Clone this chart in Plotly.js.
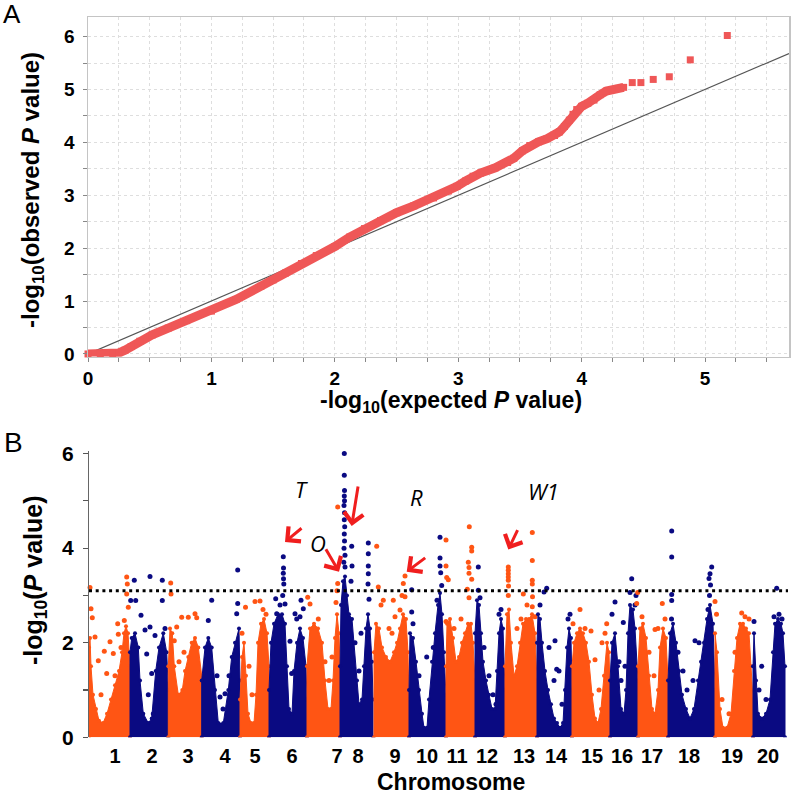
<!DOCTYPE html>
<html>
<head>
<meta charset="utf-8">
<script src="https://cdn.plot.ly/plotly-3.0.1.min.js"></script>
<style>html,body{margin:0;padding:0;background:#fff;}#chart{width:794px;height:796px;}</style>
</head>
<body>
<div id="chart"></div>
<script>
// ---------------- Panel A: QQ plot ----------------
const qqExpected = [0, 0.1, 0.2, 0.25, 0.3, 0.35, 0.42, 0.52, 0.65, 0.8, 1.0, 1.2, 1.4, 1.5, 1.6, 1.73, 1.85, 2.0, 2.12, 2.24, 2.37, 2.5, 2.64, 2.8, 2.92, 2.99, 3.06, 3.12, 3.18, 3.3, 3.4, 3.45, 3.52, 3.58, 3.65, 3.72, 3.78, 3.82, 3.86, 3.9, 3.93, 3.96, 4.0, 4.05, 4.1, 4.15, 4.2, 4.25, 4.3, 4.34, 4.41, 4.48, 4.58, 4.71, 4.88, 5.18];
const qqObserved = [0, 0, 0.01, 0.02, 0.07, 0.14, 0.24, 0.36, 0.49, 0.63, 0.81, 1.03, 1.28, 1.40, 1.53, 1.71, 1.86, 2.03, 2.21, 2.37, 2.52, 2.67, 2.80, 2.95, 3.08, 3.17, 3.27, 3.36, 3.42, 3.52, 3.62, 3.70, 3.84, 3.94, 4.01, 4.07, 4.13, 4.20, 4.30, 4.42, 4.53, 4.62, 4.68, 4.74, 4.80, 4.90, 4.97, 5.00, 5.02, 5.04, 5.13, 5.13, 5.19, 5.24, 5.56, 6.02];
const qqDenseCount = 50; // points forming the continuous band
const qqDiag = [0, 5.68];
const qqXTicks = [0, 1, 2, 3, 4, 5];
const qqYTicks = [0, 1, 2, 3, 4, 5, 6];

// ---------------- Panel B: Manhattan plot ----------------
const chrNames = ['1','2','3','4','5','6','7','8','9','10','11','12','13','14','15','16','17','18','19','20'];
const chrTickPos = [26, 63, 99, 136, 166, 203, 248, 269, 306, 338, 368, 398, 435, 467, 503, 533, 563, 600, 643, 679];
const threshold = 3.1;
const genomeEnd = 699;

// dense SNP cloud outline per chromosome (position, -log10 P)
const coreX = [
  [0, 1, 2, 4, 7, 10, 14, 18, 22, 26, 30, 33, 35, 37, 39, 41],
  [41, 42.7, 46, 49.3, 51, 54.3, 59.3, 62.7, 66.7, 70, 74.3, 77.7, 79.3],
  [79.3, 81, 83.3, 85.3, 89.3, 93.3, 96, 99.3, 102.7, 106, 109.3, 112.7],
  [112.7, 116, 119.3, 122.7, 126, 129.3, 134.3, 139.3, 142.7, 146, 150, 151],
  [151, 153, 155, 157, 159, 162, 165, 167, 169, 172, 175, 178, 180],
  [180, 182, 185, 189, 193, 196, 198, 200, 203, 205, 208, 211, 214, 217, 218],
  [218, 221, 225, 229, 233, 236, 239, 242, 244, 246, 248, 250, 251],
  [251, 252, 254, 256, 258, 260, 263, 265, 268, 270, 273, 275, 277, 279, 281, 283, 284],
  [285, 287, 290, 293, 297, 301, 305, 308, 311, 314, 317, 319, 320],
  [320, 321, 324, 327, 330, 333, 335, 338, 340, 343, 346, 349, 351, 353, 355, 357],
  [357, 358, 361, 364, 367, 370, 373, 376, 379, 382, 384, 386],
  [386, 388, 390, 392, 394, 397, 400, 403, 406, 408, 410, 412, 414, 416],
  [416, 418, 420, 422, 425, 428, 431, 434, 437, 440, 443, 446, 448],
  [448, 449, 451, 453, 456, 459, 462, 465, 468, 471, 474, 476, 478, 480, 482, 483],
  [483, 485, 488, 491, 494, 497, 500, 503, 506, 509, 512, 515, 518, 520, 521],
  [521, 523, 526, 529, 532, 535, 537, 539, 541, 544, 546, 549],
  [549, 551, 554, 557, 560, 563, 566, 569, 571, 574, 577, 579],
  [579, 581, 584, 587, 590, 593, 597, 601, 605, 609, 612, 615, 618, 621, 624, 626],
  [626, 628, 631, 634, 638, 642, 645, 648, 651, 654, 657, 660, 662, 664],
  [664, 665, 667, 669, 673, 677, 681, 684, 686, 689, 692, 694, 696]
];
const coreY = [
  [1.9, 2.1, 1.5, 0.9, 0.6, 0.35, 0.3, 0.5, 0.8, 1.1, 1.4, 1.8, 2.2, 2.35, 2.2, 1.5],
  [1.8, 2.1, 2.2, 1.9, 1.2, 0.5, 0.3, 0.4, 1.4, 1.9, 2.2, 1.8, 1.0],
  [1.5, 2.3, 2.2, 1.5, 0.9, 1.0, 1.4, 1.7, 2.0, 2.1, 1.9, 1.3],
  [1.2, 1.9, 2.1, 1.9, 1.0, 0.3, 0.3, 1.0, 1.7, 2.0, 2.3, 1.2],
  [0.8, 1.7, 2.0, 1.3, 0.5, 0.3, 0.3, 0.9, 2.0, 2.4, 2.5, 2.2, 1.5],
  [1.0, 2.0, 2.4, 2.6, 2.6, 2.4, 1.5, 0.6, 0.5, 1.4, 2.0, 2.3, 2.1, 1.5, 0.8],
  [1.5, 2.3, 2.4, 2.3, 2.0, 1.2, 0.6, 0.6, 1.2, 2.1, 2.6, 2.2, 1.5],
  [1.5, 2.8, 3.3, 3.4, 3.0, 2.6, 2.5, 2.0, 1.2, 0.7, 0.8, 1.5, 2.3, 2.6, 2.3, 1.6, 0.8],
  [1.8, 2.4, 2.3, 1.9, 1.7, 1.6, 1.8, 2.0, 2.3, 2.6, 2.5, 1.8, 0.8],
  [1.0, 2.2, 2.1, 1.6, 1.0, 0.5, 0.2, 0.2, 0.8, 1.6, 2.2, 2.8, 3.05, 2.6, 1.8, 0.9],
  [1.5, 2.4, 2.5, 2.1, 1.6, 1.7, 2.0, 2.2, 2.4, 2.4, 2.0, 1.2],
  [2.2, 2.9, 2.8, 2.2, 1.6, 1.2, 0.9, 0.6, 0.6, 1.4, 2.2, 2.5, 2.3, 1.0],
  [1.5, 2.6, 2.7, 2.0, 1.3, 1.5, 2.0, 2.4, 2.5, 2.5, 2.6, 2.2, 1.2],
  [2.0, 2.6, 2.5, 2.0, 1.4, 1.0, 0.7, 0.4, 0.3, 0.2, 0.3, 1.0, 1.9, 2.3, 2.1, 1.0],
  [1.5, 2.0, 2.2, 2.3, 2.2, 2.0, 1.6, 0.9, 0.4, 0.3, 0.6, 1.3, 2.0, 1.8, 1.0],
  [1.2, 2.0, 2.2, 1.5, 0.6, 0.5, 1.0, 2.2, 2.8, 2.7, 2.3, 1.2],
  [1.5, 2.3, 2.4, 2.1, 1.3, 0.6, 0.5, 1.0, 1.9, 2.3, 2.1, 1.2],
  [1.2, 2.2, 2.4, 2.0, 1.4, 0.9, 0.6, 0.4, 0.6, 1.2, 1.6, 2.0, 2.5, 2.8, 2.4, 1.0],
  [2.2, 1.8, 0.6, 0.2, 0.2, 0.5, 1.4, 2.1, 2.4, 2.4, 2.3, 2.2, 1.5, 0.8],
  [1.5, 2.2, 1.2, 0.5, 0.4, 0.5, 0.8, 1.8, 2.4, 2.5, 2.4, 2.2, 1.5]
];
// individual SNPs standing out of the cloud
const snpX = [
  [1, 2, 3.3, 6, 9.3, 15.3, 17.7, 21, 24.3, 28.7, 29.3, 35.3, 37.7, 38.3, 37.7, 39.3, 12, 26, 32],
  [41.7, 45.3, 46.7, 52, 56, 57.7, 59.3, 61, 61, 62.7, 64.3, 66, 73.3, 73.3, 76],
  [81.7, 82, 85.3, 87.7, 92.7, 99.3, 106, 107.7, 90, 95],
  [119.3, 122.7, 131, 134, 136, 140, 147.7, 148.7, 148.7, 128],
  [153, 156.5, 160, 163, 166, 171, 174, 177],
  [186.7, 187.7, 194.3, 194.5, 194.3, 194.5, 194.8, 193.7, 196, 201, 202.7, 206, 207.7, 212, 214.3, 211, 191],
  [218.7, 221, 229.3, 236, 240, 243, 248.7, 248.7, 248, 247],
  [255.3, 255.3, 255.5, 255.3, 255.5, 255, 255.5, 255.3, 255.7, 255.3, 255.5, 255, 256, 254.8, 256, 262.7, 263, 262, 279.3, 279.3, 279.3, 279.3, 279, 280, 266, 270, 272],
  [287.7, 289.3, 292, 294.3, 300, 303, 304.3, 306, 311, 313, 314.3, 316, 316],
  [322.7, 322.7, 324, 337.7, 344.3, 351, 351, 351, 351.7, 352.7, 348, 330],
  [357, 357, 357.7, 359.3, 357, 365, 372, 380.3, 382.7, 382.7, 379.3, 380, 380, 382.7, 378.3, 380],
  [389.3, 389.3, 391, 395, 400, 404, 407, 410, 412],
  [419.3, 419.3, 419.3, 419.3, 419.3, 419.5, 419.3, 428, 432, 434.3, 443.3, 443.3, 443.3, 443.3, 443.5, 443.3, 438, 446],
  [451, 455, 457.7, 460, 465, 466, 467.7, 470, 473, 479, 481],
  [484, 491, 496, 502, 506, 510, 513, 516, 517.7],
  [523, 526, 530, 532, 534.3, 536, 541, 542.7, 547, 546],
  [547.7, 548.7, 553, 560, 565, 566, 569, 573.3, 576],
  [582.7, 582.7, 582.7, 582.7, 582.5, 589, 594, 598, 604, 606, 610, 622.7, 621, 620, 621.5, 620.5, 619],
  [626, 627.5, 633, 640, 652.7, 656, 660, 646],
  [665, 670, 672.7, 677, 687.7, 685, 690, 693]
];
const snpY = [
  [3.17, 2.72, 2.53, 2.12, 1.62, 1.82, 1.35, 2.02, 1.77, 2.4, 2.18, 2.47, 3.39, 3.24, 3.03, 2.75, 0.9, 1.3, 1.9],
  [2.89, 3.32, 2.89, 2.58, 2.27, 1.76, 0.9, 3.4, 2.33, 1.35, 0.5, 2.15, 3.32, 2.89, 2.3],
  [3.26, 3.03, 2.04, 2.33, 2.54, 2.54, 2.61, 2.53, 1.6, 1.8],
  [2.47, 2.9, 0.85, 0.6, 0.92, 1.3, 2.61, 2.83, 3.54, 1.3],
  [2.2, 2.75, 1.5, 0.9, 2.87, 2.88, 2.7, 2.6],
  [2.93, 2.61, 3.82, 3.58, 3.47, 3.35, 3.24, 3.0, 2.82, 2.03, 1.35, 2.61, 2.5, 2.9, 2.72, 2.55, 2.8],
  [2.96, 2.82, 2.5, 1.6, 1.2, 1.7, 4.87, 3.25, 3.1, 2.85],
  [6.0, 5.54, 5.22, 5.1, 5.0, 4.9, 4.75, 4.6, 4.45, 4.3, 4.15, 4.0, 3.85, 3.7, 3.6, 4.04, 3.62, 3.3, 4.11, 3.88, 3.62, 3.46, 3.24, 2.92, 2.0, 1.4, 2.2],
  [4.04, 3.18, 2.8, 2.9, 2.3, 2.2, 2.9, 2.55, 2.69, 3.0, 3.25, 3.41, 2.97],
  [3.12, 2.65, 2.4, 1.7, 1.9, 4.23, 3.79, 3.62, 3.48, 3.21, 2.9, 1.3],
  [4.17, 3.62, 3.38, 3.33, 2.45, 2.3, 2.5, 4.45, 4.02, 3.94, 3.7, 3.59, 3.47, 3.34, 3.13, 2.95],
  [3.6, 3.11, 2.95, 1.9, 1.3, 0.9, 0.7, 2.6, 2.7],
  [3.6, 3.53, 3.46, 3.39, 3.32, 3.2, 3.0, 2.3, 2.5, 3.03, 4.33, 3.74, 3.32, 3.24, 2.97, 2.76, 2.8, 2.55],
  [2.8, 3.07, 3.15, 1.9, 1.2, 2.04, 1.44, 1.4, 0.7, 2.5, 2.6],
  [2.4, 2.7, 2.3, 2.25, 1.64, 1.0, 2.0, 2.2, 2.4],
  [2.6, 2.86, 1.6, 1.2, 2.43, 1.5, 3.06, 3.35, 3.0, 2.8],
  [2.83, 3.06, 2.55, 1.8, 1.3, 2.28, 2.3, 2.83, 2.5],
  [4.36, 3.81, 3.02, 2.89, 2.5, 1.8, 1.4, 1.0, 1.2, 2.04, 2.0, 3.6, 3.46, 3.36, 3.22, 3.0, 2.7],
  [2.87, 2.6, 0.8, 0.5, 2.63, 2.55, 2.5, 1.8],
  [2.45, 1.0, 1.5, 0.8, 3.15, 2.55, 2.6, 2.5]
];
const chrColors = ['#ff5514', '#0a0a82'];
const qqColor = '#ef5757';

// ---------------- build traces ----------------
const traces = [];
traces.push({x: qqDiag, y: qqDiag, xaxis: 'x', yaxis: 'y', mode: 'lines',
  line: {color: '#555555', width: 1.2}, hoverinfo: 'skip', showlegend: false});
traces.push({x: qqExpected.slice(0, qqDenseCount), y: qqObserved.slice(0, qqDenseCount),
  xaxis: 'x', yaxis: 'y', mode: 'lines', line: {color: qqColor, width: 9}, showlegend: false});
traces.push({x: qqExpected, y: qqObserved, xaxis: 'x', yaxis: 'y', mode: 'markers',
  marker: {symbol: 'square', size: 7, color: qqColor}, cliponaxis: false, showlegend: false});

for (let c = 0; c < chrNames.length; c++) {
  const col = chrColors[c % 2];
  const cx = coreX[c], cy = coreY[c];
  traces.push({
    x: [cx[0]].concat(cx, [cx[cx.length - 1]]),
    y: [0].concat(cy, [0]),
    xaxis: 'x2', yaxis: 'y2', mode: 'lines+markers', fill: 'toself', fillcolor: col,
    line: {color: col, width: 1}, marker: {size: 4, color: col}, showlegend: false
  });
  traces.push({
    x: snpX[c], y: snpY[c], xaxis: 'x2', yaxis: 'y2', mode: 'markers',
    marker: {size: 5, color: col}, cliponaxis: false, showlegend: false
  });
}

// ---------------- layout ----------------
const qqXTickVals = [], qqXTickText = [];
for (let i = 0; i <= 22; i++) { const v = i * 0.25; qqXTickVals.push(v); qqXTickText.push(qqXTicks.includes(v) ? String(v) : ''); }
const qqYTickVals = [], qqYTickText = [];
for (let i = 0; i <= 12; i++) { const v = i * 0.5; qqYTickVals.push(v); qqYTickText.push(qqYTicks.includes(v) ? String(v) : ''); }

const boldFont = (s) => ({family: 'Liberation Sans, Arial, sans-serif', size: s, color: '#000', weight: 'bold'});
const arrowCol = '#f01e1e';
function arrow(x, y, ax, ay) {
  return {xref: 'x2', yref: 'y2', x: x, y: y, ax: ax, ay: ay, text: '', showarrow: true,
    arrowhead: 4, arrowsize: 1.25, arrowwidth: 3, arrowcolor: arrowCol, standoff: 0};
}
function gene(x, y, t) {
  return {xref: 'x2', yref: 'y2', x: x, y: y, text: '<i>' + t + '</i>', showarrow: false,
    xanchor: 'center', yanchor: 'middle',
    font: {family: 'Open Sans, Noto Sans, sans-serif', size: 22, color: '#000'}};
}
function paperText(x, y, t, font, angle) {
  return {xref: 'paper', yref: 'paper', x: x / 794, y: 1 - y / 796, text: t, showarrow: false,
    xanchor: 'center', yanchor: 'middle', textangle: angle || 0, font: font};
}

const layout = {
  width: 794, height: 796,
  margin: {l: 0, r: 0, t: 0, b: 0},
  paper_bgcolor: '#fff', plot_bgcolor: '#fff',
  showlegend: false,
  xaxis: {domain: [88/794, 789/794], range: [0, 5.68], anchor: 'y',
    tickmode: 'array', tickvals: qqXTickVals, ticktext: qqXTickText,
    ticks: 'outside', ticklen: 4, tickcolor: '#888', tickwidth: 1,
    showgrid: true, gridcolor: '#dedede', griddash: 'dot', gridwidth: 1,
    showline: true, linecolor: '#c4c4c4', linewidth: 1.5, mirror: true,
    zeroline: false, tickfont: boldFont(19), ticklabelstandoff: 0},
  yaxis: {domain: [1 - 356.6/796, 1 - 17/796], range: [-0.05, 6.37], anchor: 'x',
    tickmode: 'array', tickvals: qqYTickVals, ticktext: qqYTickText,
    ticks: 'outside', ticklen: 4, tickcolor: '#888', tickwidth: 1,
    showgrid: true, gridcolor: '#dedede', griddash: 'dot', gridwidth: 1,
    showline: true, linecolor: '#c4c4c4', linewidth: 1.5, mirror: true,
    zeroline: false, tickfont: boldFont(19), ticklabelstandoff: 4},
  xaxis2: {domain: [89/794, 788/794], range: [0, genomeEnd], anchor: 'y2',
    tickmode: 'array', tickvals: chrTickPos, ticktext: chrNames,
    ticks: '', showgrid: false, zeroline: false, showline: false,
    tickfont: boldFont(20), ticklabelstandoff: 5},
  yaxis2: {domain: [1 - 737.3/796, 1 - 450.7/796], range: [0, 6.06], anchor: 'x2',
    tickmode: 'array', tickvals: [0, 1, 2, 3, 4, 5, 6], ticktext: ['0', '', '2', '', '4', '', '6'],
    ticks: 'outside', ticklen: 5, tickcolor: '#555', tickwidth: 1.2,
    showgrid: false, zeroline: false, showline: true, linecolor: '#666', linewidth: 1.2,
    tickfont: boldFont(21), ticklabelstandoff: 5},
  shapes: [{type: 'line', xref: 'x2', yref: 'y2', x0: 0, x1: genomeEnd, y0: threshold, y1: threshold,
    line: {color: '#000', width: 3, dash: '3px,3.7px'}}],
  annotations: [
    paperText(12, 14, 'A', {family: 'Liberation Sans, Arial, sans-serif', size: 26, color: '#000'}),
    paperText(13, 442, 'B', {family: 'Liberation Sans, Arial, sans-serif', size: 28, color: '#000'}),
    paperText(451, 401, '-log<sub>10</sub>(expected <i>P</i> value)', boldFont(23)),
    paperText(33, 190, '-log<sub>10</sub>(observed <i>P</i> value)', boldFont(24), -90),
    paperText(35, 580, '-log<sub>10</sub>(<i>P</i> value)', boldFont(25), -90),
    paperText(451, 782, 'Chromosome', boldFont(23)),
    gene(212, 5.26, 'T'), gene(229, 4.11, 'O'), gene(273, 6.22, 'I'), gene(327.7, 5.08, 'R'), gene(454, 5.21, 'W1'),
    arrow(196, 4.13, 18, -15), arrow(250, 3.50, -14, -24), arrow(262.7, 4.47, 6.6, -41),
    arrow(317.7, 3.50, 20, -15), arrow(419.3, 3.97, 10, -21)
  ]
};

Plotly.newPlot('chart', traces, layout, {staticPlot: true, displayModeBar: false});
</script>
</body>
</html>
